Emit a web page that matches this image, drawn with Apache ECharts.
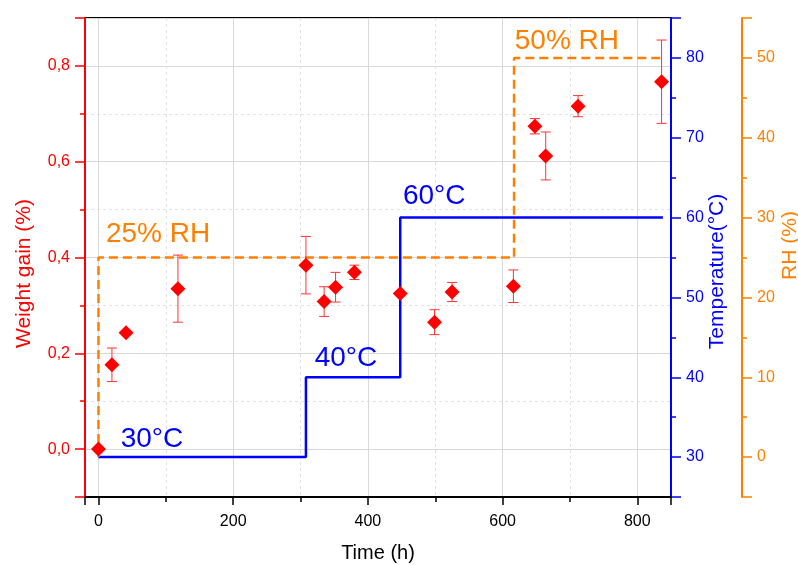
<!DOCTYPE html>
<html><head><meta charset="utf-8">
<script src="https://cdn.jsdelivr.net/npm/echarts@6/dist/echarts.min.js"></script>
<style>html,body{margin:0;padding:0;background:#fff}#c{width:798px;height:565px}</style>
</head><body><div id="c"></div>
<script>
// ---- data ----
const times      = [0, 20, 41, 118, 308, 335, 352, 380, 448, 499, 525, 616, 648, 664, 712, 836];
const weightGain = [0.000, 0.176, 0.243, 0.335, 0.384, 0.308, 0.338, 0.369, 0.325, 0.265, 0.328, 0.340, 0.674, 0.612, 0.716, 0.767];
const weightErr  = [0, 0.035, 0, 0.070, 0.060, 0.031, 0.031, 0.015, 0, 0.026, 0.020, 0.034, 0.016, 0.050, 0.022, 0.087];
const tempTimes  = [0, 308, 448, 838];
const tempValues = [30, 40, 60, 60];
const rhTimes    = [0, 0, 617, 838];
const rhValues   = [0, 25, 50, 50];
const tempLabels      = ['30°C', '40°C', '60°C'];
const tempLabelTimes  = [33, 321, 452];
const tempLabelValues = [32.2, 42.4, 62.7];
const rhLabels      = ['25% RH', '50% RH'];
const rhLabelTimes  = [11, 618];
const rhLabelValues = [27.9, 52.1];

const FONT = 'Liberation Sans, Arial, sans-serif';
const RED = '#ff0000', BLUE = '#0000ff', ORANGE = '#ff8000';

const chart = echarts.init(document.getElementById('c'), null, {renderer: 'canvas'});

function yAxisBase(color) {
  return {
    type: 'value',
    nameLocation: 'middle',
    nameMoveOverlap: false,
    axisLine: {show: true, onZero: false, lineStyle: {color: color, width: 2}},
    axisTick: {show: true, length: 10, lineStyle: {color: color, width: 1.5}},
    minorTick: {show: true, splitNumber: 2, length: 5, lineStyle: {color: color, width: 1.5}},
    axisLabel: {color: color, fontSize: 16, fontFamily: FONT, margin: 15, showMinLabel: false, showMaxLabel: false},
    splitLine: {show: false},
    minorSplitLine: {show: false}
  };
}

const yLeft = Object.assign(yAxisBase(RED), {
  position: 'left', min: -0.1, max: 0.9, splitNumber: 5,
  name: 'Weight gain (%)', nameGap: 50,
  nameTextStyle: {color: RED, fontSize: 21, fontFamily: FONT, padding: [0, 32, 0, 0]},
  splitLine: {show: true, lineStyle: {color: '#d9d9d9', width: 1}},
  minorSplitLine: {show: true, lineStyle: {color: '#e3e3e3', width: 1, type: [3, 3]}}
});
yLeft.axisLabel.formatter = v => v.toFixed(1).replace('.', ',');

const yTemp = Object.assign(yAxisBase(BLUE), {
  position: 'right', min: 25, max: 85, splitNumber: 6,
  name: 'Temperature(°C)', nameGap: 36,
  nameTextStyle: {color: BLUE, fontSize: 21, fontFamily: FONT, padding: [0, 28, 0, 0]}
});
const yRH = Object.assign(yAxisBase(ORANGE), {
  position: 'right', offset: 71, min: -5, max: 55, splitNumber: 6,
  name: 'RH (%)', nameGap: 38,
  nameTextStyle: {color: ORANGE, fontSize: 21, fontFamily: FONT, padding: [0, 0, 0, 24]}
});

const option = {
  animation: false,
  backgroundColor: '#fff',
  textStyle: {fontFamily: FONT},
  grid: {left: 85, right: 127, top: 18, bottom: 68, show: true, borderColor: '#000', borderWidth: 2,
         containLabel: false, outerBoundsMode: 'none'},
  xAxis: {
    type: 'value', min: -20, max: 850, splitNumber: 4,
    name: 'Time (h)', nameLocation: 'middle', nameGap: 46, nameMoveOverlap: false,
    nameTextStyle: {color: '#000', fontSize: 20, fontFamily: FONT},
    axisLine: {show: true, onZero: false, lineStyle: {color: '#000', width: 2}},
    axisTick: {show: true, length: 8, lineStyle: {color: '#000', width: 1.5}},
    minorTick: {show: true, splitNumber: 2, length: 5, lineStyle: {color: '#000', width: 1.5}},
    axisLabel: {color: '#000', fontSize: 16, fontFamily: FONT, margin: 17, showMinLabel: false, showMaxLabel: false},
    splitLine: {show: true, lineStyle: {color: '#d9d9d9', width: 1}},
    minorSplitLine: {show: true, lineStyle: {color: '#e3e3e3', width: 1, type: [3, 3]}}
  },
  yAxis: [yLeft, yTemp, yRH],
  series: [
    {
      name: 'RH', type: 'line', yAxisIndex: 2, step: 'end', showSymbol: false, z: 3,
      data: rhTimes.map((t, i) => [t, rhValues[i]]),
      lineStyle: {color: ORANGE, width: 2.5, type: [9, 5]}
    },
    {
      name: 'Temperature', type: 'line', yAxisIndex: 1, step: 'end', showSymbol: false, z: 2,
      data: tempTimes.map((t, i) => [t, tempValues[i]]),
      lineStyle: {color: BLUE, width: 2.5}
    },
    {
      name: 'err', type: 'custom', yAxisIndex: 0, z: 5,
      data: times.map((t, i) => [t, weightGain[i] - weightErr[i], weightGain[i] + weightErr[i]]).filter((d, i) => weightErr[i] > 0),
      encode: {x: 0, y: [1, 2]},
      renderItem: function (params, api) {
        const x = api.value(0);
        const p1 = api.coord([x, api.value(1)]);
        const p2 = api.coord([x, api.value(2)]);
        const hw = 5;
        const st = {stroke: '#ff3333', lineWidth: 1};
        return {type: 'group', children: [
          {type: 'line', shape: {x1: p1[0], y1: p1[1], x2: p2[0], y2: p2[1]}, style: st},
          {type: 'line', shape: {x1: p1[0] - hw, y1: p1[1], x2: p1[0] + hw, y2: p1[1]}, style: st},
          {type: 'line', shape: {x1: p2[0] - hw, y1: p2[1], x2: p2[0] + hw, y2: p2[1]}, style: st}
        ]};
      }
    },
    {
      name: 'Weight gain', type: 'scatter', yAxisIndex: 0, z: 10,
      symbol: 'diamond', symbolSize: [15, 15],
      itemStyle: {color: RED, opacity: 1},
      data: times.map((t, i) => [t, weightGain[i]])
    },
    {
      name: 'tempText', type: 'scatter', yAxisIndex: 1, symbolSize: 0, z: 12, silent: true,
      itemStyle: {opacity: 1},
      data: tempLabelTimes.map((t, i) => ({value: [t, tempLabelValues[i]], name: tempLabels[i]})),
      label: {show: true, position: [0, 0], align: 'left', verticalAlign: 'middle',
        formatter: p => p.name, color: BLUE, fontSize: 28, fontFamily: FONT}
    },
    {
      name: 'rhText', type: 'scatter', yAxisIndex: 2, symbolSize: 0, z: 12, silent: true,
      itemStyle: {opacity: 1},
      data: rhLabelTimes.map((t, i) => ({value: [t, rhLabelValues[i]], name: rhLabels[i]})),
      label: {show: true, position: [0, 0], align: 'left', verticalAlign: 'middle',
        formatter: p => p.name, color: ORANGE, fontSize: 28, fontFamily: FONT}
    }
  ]
};
chart.setOption(option);
</script>
</body></html>
